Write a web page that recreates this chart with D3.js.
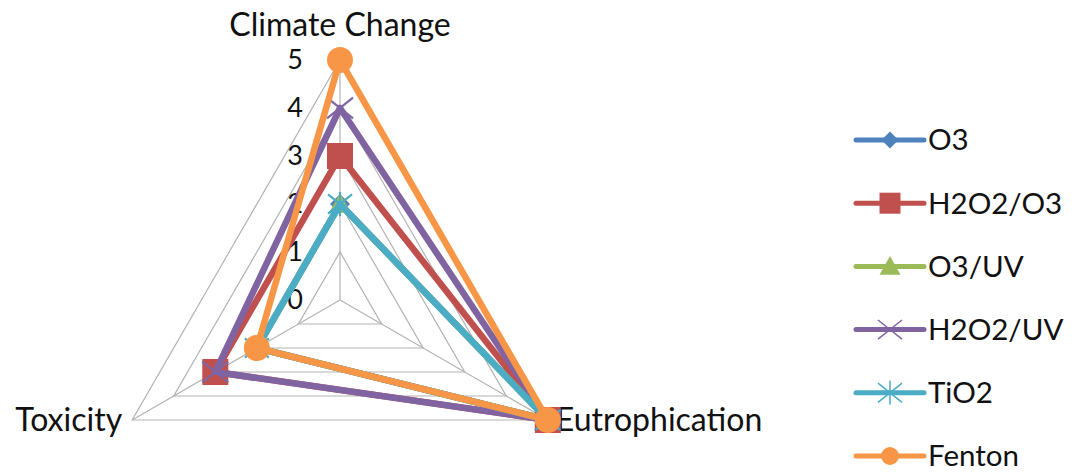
<!DOCTYPE html>
<html><head><meta charset="utf-8">
<script src="https://cdn.jsdelivr.net/npm/d3@7"></script>
<style>body{margin:0;background:#fff}svg{display:block}text{font-family:Lato,"Open Sans",sans-serif;fill:#111}</style>
</head><body><svg id="c" width="1076" height="474"></svg>
<script>
const axes = ["Climate Change", "Eutrophication", "Toxicity"];
const ticks = [0, 1, 2, 3, 4, 5];
const seriesNames = ["O3", "H2O2/O3", "O3/UV", "H2O2/UV", "TiO2", "Fenton"];
const o3 = [2, 5, 2];
const h2o2o3 = [3, 5, 3];
const o3uv = [2, 5, 2];
const h2o2uv = [4, 5, 3];
const tio2 = [2, 5, 2];
const fenton = [5, 5, 2];
const colors = ["#4F81BD", "#C0504D", "#9BBB59", "#8064A2", "#4BACC6", "#F79646"];
const markers = ["diamond", "square", "triangle", "x", "star", "circle"];

const series = seriesNames.map((n, i) => ({name: n, values: [o3, h2o2o3, o3uv, h2o2uv, tio2, fenton][i], color: colors[i], marker: markers[i]}));

const svg = d3.select("#c");
const cx = 340, cy = 300;
const r = d3.scaleLinear().domain([0, 5]).range([0, 240]);
const ang = d3.scalePoint().domain(axes).range([-Math.PI / 2, -Math.PI / 2 + 4 * Math.PI / 3]);
const pt = (a, v) => [cx + r(v) * Math.cos(ang(a)), cy + r(v) * Math.sin(ang(a))];

const g = svg.append("g");
ticks.filter(t => t > 0).forEach(t => {
  g.append("path").attr("d", d3.line()(axes.map(a => pt(a, t))) + "Z")
    .attr("fill", "none").attr("stroke", "#b3b3b3").attr("stroke-width", 1.2);
});
axes.forEach(a => {
  const p = pt(a, 5);
  g.append("line").attr("x1", cx).attr("y1", cy).attr("x2", p[0]).attr("y2", p[1])
    .attr("stroke", "#b3b3b3").attr("stroke-width", 1.2);
});
ticks.forEach(t => {
  const p = pt(axes[0], t);
  g.append("text").attr("x", p[0] - 37).attr("y", p[1]).attr("dy", "0.35em")
    .attr("text-anchor", "end").attr("font-size", 27).text(t);
});
const pTop = pt(axes[0], 5);
g.append("text").attr("x", pTop[0]).attr("y", pTop[1] - 24).attr("text-anchor", "middle").attr("font-size", 32).text(axes[0]);
const pRight = pt(axes[1], 5);
g.append("text").attr("x", pRight[0] + 8).attr("y", pRight[1]).attr("dy", "0.35em").attr("text-anchor", "start").attr("font-size", 32).text(axes[1]);
const pLeft = pt(axes[2], 5);
g.append("text").attr("x", pLeft[0] - 10).attr("y", pLeft[1]).attr("dy", "0.35em").attr("text-anchor", "end").attr("font-size", 32).text(axes[2]);

function drawMarker(sel, type, x, y, s, color, sw) {
  const h = s / 2;
  if (type === "diamond") sel.append("path").attr("d", `M${x},${y-h}L${x+h},${y}L${x},${y+h}L${x-h},${y}Z`).attr("fill", color);
  else if (type === "square") sel.append("rect").attr("x", x - h).attr("y", y - h).attr("width", s).attr("height", s).attr("fill", color);
  else if (type === "triangle") sel.append("path").attr("d", `M${x},${y-h}L${x+h},${y+h*0.8}L${x-h},${y+h*0.8}Z`).attr("fill", color);
  else if (type === "circle") sel.append("circle").attr("cx", x).attr("cy", y).attr("r", h).attr("fill", color);
  else if (type === "x") sel.append("path").attr("d", `M${x-h},${y-h*0.8}L${x+h},${y+h*0.8}M${x+h},${y-h*0.8}L${x-h},${y+h*0.8}`).attr("stroke", color).attr("stroke-width", sw);
  else if (type === "star") sel.append("path").attr("d", `M${x-h},${y-h*0.8}L${x+h},${y+h*0.8}M${x+h},${y-h*0.8}L${x-h},${y+h*0.8}M${x},${y-h}L${x},${y+h}`).attr("stroke", color).attr("stroke-width", sw);
}

const markerSize = {diamond: 20, square: 26, triangle: 22, x: 26, star: 24, circle: 26};
series.forEach(s => {
  const pts = axes.map((a, i) => pt(a, s.values[i]));
  g.append("path").attr("d", d3.line()(pts) + "Z").attr("fill", "none")
    .attr("stroke", s.color).attr("stroke-width", 6.5).attr("stroke-linejoin", "round");
  pts.forEach(p => drawMarker(g, s.marker, p[0], p[1], markerSize[s.marker], s.color, 2.2));
});

const legendSize = {diamond: 17, square: 21, triangle: 21, x: 24, star: 24, circle: 18};
const ly = d3.scalePoint().domain(seriesNames).range([140, 456]);
const lg = svg.append("g");
series.forEach(s => {
  const y = ly(s.name);
  lg.append("line").attr("x1", 856).attr("x2", 924).attr("y1", y).attr("y2", y)
    .attr("stroke", s.color).attr("stroke-width", 5).attr("stroke-linecap", "round");
  drawMarker(lg, s.marker, 890, y, legendSize[s.marker], s.color, 1.5);
  lg.append("text").attr("x", 928).attr("y", y).attr("dy", "0.35em").attr("font-size", 29.5).text(s.name);
});
</script></body></html>
